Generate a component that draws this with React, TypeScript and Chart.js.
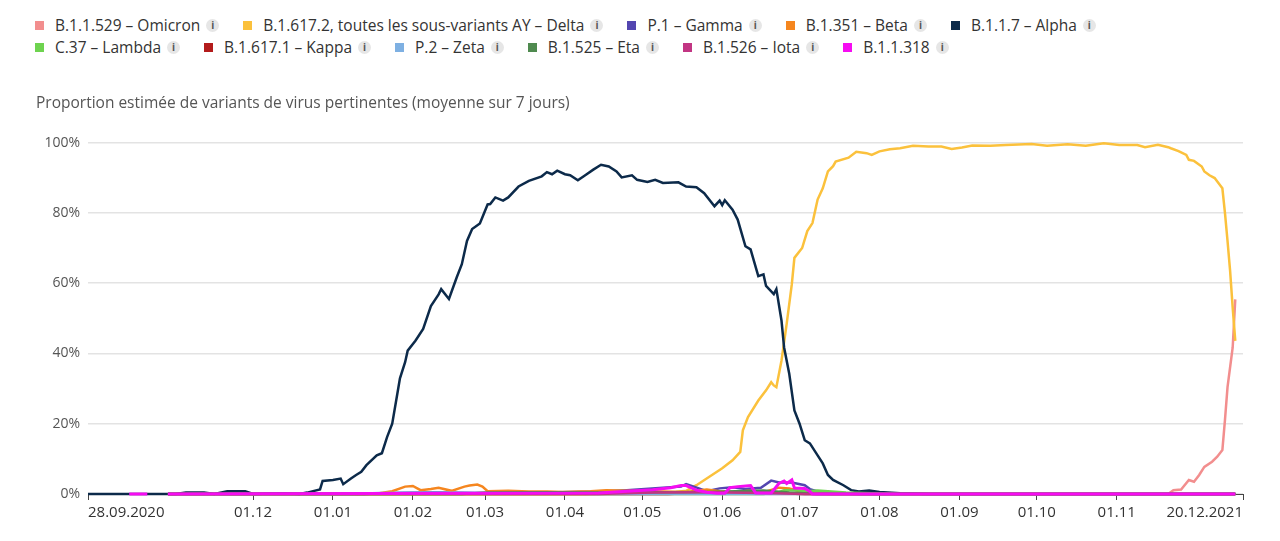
import React, { useEffect, useRef } from "react";
import { Chart, registerables } from "chart.js";

Chart.register(...registerables);

const FONT = "'Open Sans', 'Noto Sans', sans-serif";

type Pt = [number, number | null];

// x = days after 28.09.2020, y = percent (7-day average share)
const omicron: Pt[] = [[31, 0], [419, 0], [421, 1.1], [424, 1.3], [427, 4], [429, 3.5], [431, 5.4], [433, 7.7], [436, 9.2], [438, 10.6], [440, 12.5], [441, 21], [442, 30.4], [444, 41.7], [445, 55.4]];

const delta: Pt[] = [[31, 0], [193, 0], [214, 0.3], [228, 0.6], [232, 0.9], [236, 2.5], [241, 4.9], [246, 7.3], [250, 9.6], [253, 12], [254, 18.1], [256, 21.9], [260, 26.6], [263, 29.5], [265, 31.8], [266, 30.9], [267, 30.4], [269, 38], [271, 48.4], [273, 59.7], [274, 67.2], [277, 70], [279, 74.8], [281, 77.1], [283, 83.8], [285, 87], [287, 91.8], [289, 93.3], [290, 94.6], [295, 95.7], [298, 97.4], [302, 97], [304, 96.5], [307, 97.5], [311, 98.1], [315, 98.4], [320, 99.1], [326, 98.9], [331, 98.9], [335, 98.2], [339, 98.6], [343, 99.2], [350, 99.1], [356, 99.3], [366, 99.6], [372, 99.1], [380, 99.5], [387, 99.1], [394, 99.8], [400, 99.3], [407, 99.3], [410, 98.7], [415, 99.4], [419, 98.7], [420, 98.4], [423, 97.6], [426, 96.5], [427, 95.1], [429, 94.8], [432, 93.2], [433, 91.8], [435, 90.7], [437, 89.9], [440, 87], [441, 80], [442, 72], [443, 63.5], [444, 53], [445, 43.6]];

const gamma: Pt[] = [[31, 0], [107, 0], [118, 0.3], [134, 0.5], [150, 0.3], [166, 0.3], [182, 0.5], [198, 0.7], [209, 1.1], [216, 1.4], [223, 1.8], [230, 2.1], [232, 2.8], [235, 2.1], [240, 0.8], [245, 1.6], [250, 1.9], [255, 1.4], [261, 1.8], [265, 3.8], [268, 3.3], [273, 3.3], [278, 2.5], [280, 1.4], [284, 0.5], [291, 0.2], [299, 0], [445, 0]];

const beta: Pt[] = [[31, 0], [102, 0], [113, 0.2], [118, 0.8], [123, 2.1], [126, 2.3], [129, 1.1], [133, 1.4], [136, 1.8], [141, 0.9], [146, 2.1], [148, 2.4], [151, 2.7], [153, 2.1], [155, 0.8], [163, 0.9], [171, 0.7], [178, 0.7], [184, 0.6], [195, 0.8], [201, 1.1], [217, 0.8], [232, 0.6], [240, 1.3], [245, 0.8], [251, 0.5], [256, 0.9], [262, 0.5], [268, 1.8], [272, 1.6], [276, 0.8], [281, 0.2], [288, 0], [445, 0]];

const alpha: Pt[] = [[0, 0], [34, 0], [38, 0.4], [45, 0.4], [49, 0], [54, 0.8], [61, 0.8], [64, 0], [76, 0.2], [82, 0], [85, 0.4], [90, 1.3], [91, 3.7], [95, 4], [98, 4.4], [99, 2.8], [102, 4.4], [104, 5.4], [106, 6.3], [108, 8.2], [112, 11], [114, 11.6], [116, 16.2], [118, 20], [120, 28.6], [121, 32.9], [123, 37.5], [124, 40.8], [127, 43.6], [130, 47], [133, 53.5], [136, 56.8], [137, 58.3], [140, 55.5], [143, 61.6], [145, 65.4], [147, 72], [149, 75.4], [152, 77], [155, 82.4], [156, 82.5], [158, 84.4], [161, 83.5], [163, 84.4], [167, 87.5], [171, 89.1], [176, 90.4], [178, 91.6], [180, 91], [182, 92], [185, 91], [187, 90.7], [190, 89.3], [193, 90.8], [196, 92.3], [199, 93.7], [202, 93.2], [205, 91.8], [207, 90.1], [211, 90.7], [213, 89.4], [217, 88.8], [220, 89.4], [223, 88.5], [229, 88.7], [232, 87.5], [236, 87.3], [239, 85.6], [243, 81.9], [245, 83.5], [246, 82.2], [247, 83.6], [250, 80.9], [252, 78.1], [255, 70.5], [257, 69.6], [260, 62], [262, 62.5], [263, 59.2], [266, 56.9], [267, 58.3], [269, 49.3], [270, 41.7], [272, 34.2], [274, 23.8], [276, 20], [278, 15.3], [280, 14.4], [283, 11], [285, 8.7], [287, 5.4], [289, 4], [293, 2.5], [296, 1.1], [299, 0.7], [303, 1], [307, 0.6], [315, 0.2], [326, 0], [445, 0]];

const lambda: Pt[] = [[31, 0], [262, 0], [268, 0.5], [270, 1.1], [274, 1.1], [279, 0.8], [283, 1], [287, 0.8], [294, 0.4], [304, 0.2], [315, 0], [445, 0]];

const kappa: Pt[] = [[31, 0], [225, 0], [235, 0.3], [251, 0.4], [267, 0.2], [278, 0], [445, 0]];

const zeta: Pt[] = [[31, 0], [102, 0], [113, 0.3], [134, 0.4], [155, 0.3], [177, 0.2], [198, 0], [445, 0]];

const eta: Pt[] = [[31, 0], [145, 0], [155, 0.4], [177, 0.5], [209, 0.4], [240, 0.6], [262, 1], [272, 0.4], [283, 0], [445, 0]];

const iota: Pt[] = [[31, 0], [198, 0], [219, 0.4], [240, 0.5], [262, 0.3], [278, 0], [445, 0]];

const b11318: Pt[] = [[16, 0], [23, 0], [27, null], [31, 0], [198, 0.3], [209, 0.8], [219, 1.2], [226, 1.8], [230, 2.4], [232, 2.4], [236, 1.1], [240, 0.5], [244, 0.2], [247, 0.2], [249, 1.8], [252, 2.1], [257, 2.4], [259, 0.3], [262, 0.3], [265, 0.3], [268, 3], [270, 3.7], [271, 3], [273, 4], [274, 1.7], [278, 1.6], [280, 0.7], [281, 0], [445, 0]];

const seriesNames = [
  "B.1.1.529 – Omicron",
  "B.1.617.2, toutes les sous-variants AY – Delta",
  "P.1 – Gamma",
  "B.1.351 – Beta",
  "B.1.1.7 – Alpha",
  "C.37 – Lambda",
  "B.1.617.1 – Kappa",
  "P.2 – Zeta",
  "B.1.525 – Eta",
  "B.1.526 – Iota",
  "B.1.1.318",
];
const seriesColors = ["#f28e8e", "#fbc13c", "#5346b0", "#f5861f", "#0c2a4a", "#6ed34f", "#b31b1b", "#7eb0e2", "#4f8a4f", "#c23583", "#f60cf2"];
const seriesData: Pt[][] = [omicron, delta, gamma, beta, alpha, lambda, kappa, zeta, eta, iota, b11318];

// days after 28.09.2020 for each axis label
const tickDays = [0, 64, 95, 126, 154, 185, 215, 246, 276, 307, 338, 368, 399, 448];
const tickLabels = ["28.09.2020", "01.12", "01.01", "01.02", "01.03", "01.04", "01.05", "01.06", "01.07", "01.08", "01.09", "01.10", "01.11", "20.12.2021"];

const title = "Proportion estimée de variants de virus pertinentes (moyenne sur 7 jours)";

function LegendItem({ i }: { i: number }) {
  return (
    <div style={{ display: "flex", alignItems: "center", marginRight: 24 }}>
      <span style={{ width: 9, height: 9, background: seriesColors[i], marginRight: 11, display: "inline-block" }} />
      <span>{seriesNames[i]}</span>
      <span
        style={{
          marginLeft: 6,
          width: 13,
          height: 13,
          borderRadius: "50%",
          background: "#e6e6e6",
          color: "#555",
          fontSize: 10,
          fontWeight: 700,
          lineHeight: "13px",
          textAlign: "center",
          display: "inline-block",
        }}
      >
        i
      </span>
    </div>
  );
}

export default function App() {
  const ref = useRef<HTMLCanvasElement | null>(null);

  useEffect(() => {
    if (!ref.current) return;
    const n = seriesNames.length;
    const chart = new Chart(ref.current, {
      type: "line",
      data: {
        datasets: seriesData.map((pts, i) => ({
          label: seriesNames[i],
          data: pts.map(([x, y]) => ({ x, y })),
          borderColor: seriesColors[i],
          backgroundColor: seriesColors[i],
          borderWidth: i === n - 1 ? 3 : 2.5,
          pointRadius: 0,
          tension: 0,
          spanGaps: false,
          clip: false,
          order: n - 1 - i,
        })),
      },
      options: {
        animation: false,
        responsive: false,
        devicePixelRatio: 1,
        events: [],
        layout: { padding: { left: 36, right: 37, top: 0, bottom: 15 } },
        plugins: {
          legend: { display: false },
          tooltip: { enabled: false },
          title: {
            display: true,
            text: title,
            align: "start",
            color: "#555",
            font: { family: FONT, size: 15.5, weight: "normal" },
            padding: { top: 14, bottom: 30 },
          },
        },
        scales: {
          x: {
            type: "linear",
            min: 0,
            max: 448,
            afterBuildTicks: (scale: any) => {
              scale.ticks = tickDays.map((v) => ({ value: v }));
            },
            ticks: {
              autoSkip: false,
              maxRotation: 0,
              align: "inner",
              color: "#333",
              padding: 4,
              font: { family: FONT, size: 15 },
              callback: (_v: any, idx: number) => tickLabels[idx],
            },
            grid: { drawOnChartArea: false, drawTicks: true, tickLength: 6, color: "#444" },
            border: { display: true, color: "#444", width: 1 },
          },
          y: {
            min: 0,
            max: 100,
            afterFit: (scale: any) => {
              scale.width = 52;
            },
            ticks: {
              stepSize: 20,
              color: "#555",
              padding: 8,
              font: { family: FONT, size: 14 },
              callback: (v: any) => v + "%",
            },
            grid: { color: "#e3e3e3", lineWidth: 1.5, drawTicks: false },
            border: { display: false },
          },
        },
      },
    } as any);
    return () => chart.destroy();
  }, []);

  return (
    <div style={{ position: "absolute", left: 0, top: 0, width: 1280, height: 541, background: "#fff", fontFamily: FONT }}>
      <div style={{ position: "absolute", left: 35, top: 14, fontSize: 15.5, color: "#333", lineHeight: "22px" }}>
        <div style={{ display: "flex", height: 22 }}>
          {[0, 1, 2, 3, 4].map((i) => (
            <LegendItem key={i} i={i} />
          ))}
        </div>
        <div style={{ display: "flex", height: 22 }}>
          {[5, 6, 7, 8, 9, 10].map((i) => (
            <LegendItem key={i} i={i} />
          ))}
        </div>
      </div>
      <div style={{ position: "absolute", left: 0, top: 80 }}>
        <canvas ref={ref} width={1280} height={461} />
      </div>
    </div>
  );
}
